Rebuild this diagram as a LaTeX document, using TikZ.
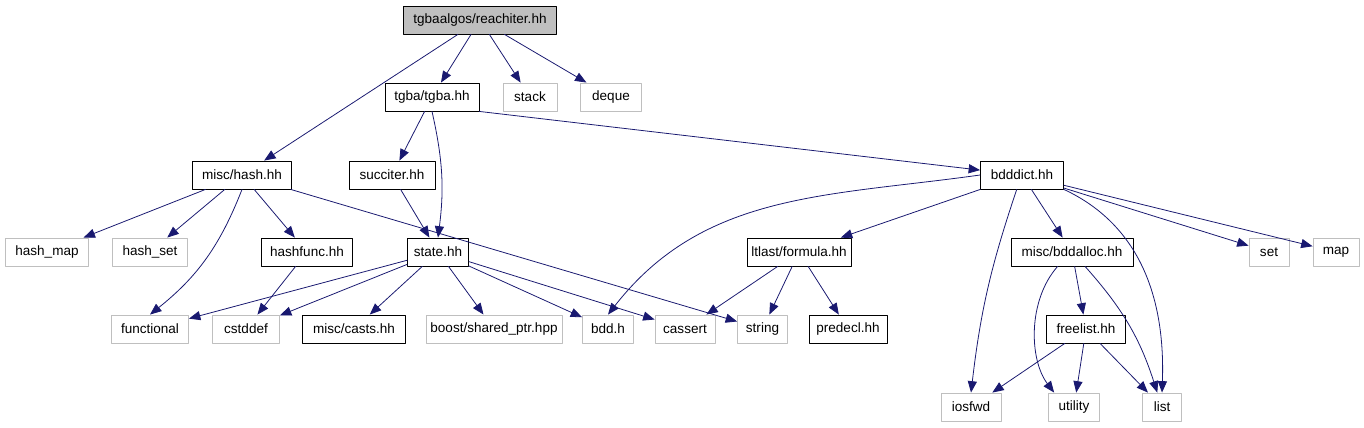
\documentclass[tikz,border=0pt]{standalone}
\usepackage{fontspec}
\setmainfont{Liberation Sans}
\usetikzlibrary{arrows.meta}
\definecolor{edgeblue}{HTML}{191970}
\definecolor{sysgray}{HTML}{BFBFBF}
\begin{document}
\begin{tikzpicture}[x=0.02cm,y=-0.02cm,line cap=round,line join=round,
  >={Triangle[length=6.5pt,width=5.2pt]},
  every node/.style={inner sep=0pt,minimum height=0.56cm,font=\fontsize{7.7}{9}\selectfont},
  docfile/.style={draw=black,line width=0.5pt},
  sysfile/.style={draw=sysgray,line width=0.5pt},
  rootfile/.style={draw=black,fill=sysgray,line width=0.5pt},
  dep/.style={->,draw=edgeblue,line width=0.45pt}]
  \useasboundingbox (0,0) rectangle (1364,427);
  % top rows
  \node[rootfile,minimum width=3.06cm] (reachiter) at (480,20) {tgbaalgos/reachiter.hh};
  \node[docfile,minimum width=1.88cm] (tgba) at (432,97) {tgba/tgba.hh};
  \node[sysfile,minimum width=1.08cm] (stack) at (530,97) {stack};
  \node[sysfile,minimum width=1.22cm] (deque) at (611,97) {deque};
  \node[docfile,minimum width=1.98cm] (hash) at (242,175) {misc/hash.hh};
  \node[docfile,minimum width=1.72cm] (succiter) at (392,175) {succiter.hh};
  \node[docfile,minimum width=1.66cm] (bdddict) at (1022,175) {bdddict.hh};
  % middle row
  \node[sysfile,minimum width=1.66cm] (hashmap) at (47,252) {hash\_map};
  \node[sysfile,minimum width=1.50cm] (hashset) at (150,252) {hash\_set};
  \node[docfile,minimum width=1.82cm] (hashfunc) at (307,252) {hashfunc.hh};
  \node[docfile,minimum width=1.22cm] (state) at (438,252) {state.hh};
  \node[docfile,minimum width=2.08cm] (formula) at (799,252) {ltlast/formula.hh};
  \node[docfile,minimum width=2.44cm] (bddalloc) at (1072,252) {misc/bddalloc.hh};
  \node[sysfile,minimum width=0.80cm] (set) at (1269,252) {set};
  \node[sysfile,minimum width=0.92cm] (map) at (1336,252) {map};
  % lower rows
  \node[sysfile,minimum width=1.54cm] (functional) at (150,329) {functional};
  \node[sysfile,minimum width=1.34cm] (cstddef) at (246,329) {cstddef};
  \node[docfile,minimum width=2.06cm] (casts) at (354,329) {misc/casts.hh};
  \node[sysfile,minimum width=2.72cm] (sharedptr) at (494,329) {boost/shared\_ptr.hpp};
  \node[sysfile,minimum width=1.02cm] (bddh) at (608,329) {bdd.h};
  \node[sysfile,minimum width=1.20cm] (cassert) at (685,329) {cassert};
  \node[sysfile,minimum width=1.00cm] (string) at (762.5,329) {string};
  \node[docfile,minimum width=1.56cm] (predecl) at (848,329) {predecl.hh};
  \node[docfile,minimum width=1.58cm] (freelist) at (1086,329) {freelist.hh};
  \node[sysfile,minimum width=1.20cm] (iosfwd) at (971,407) {iosfwd};
  \node[sysfile,minimum width=1.02cm] (utility) at (1074,407) {utility};
  \node[sysfile,minimum width=0.78cm] (list) at (1162,407) {list};
  % include edges
  \draw[dep] (reachiter) -- (hash);
  \draw[dep] (reachiter) -- (tgba);
  \draw[dep] (reachiter) -- (stack);
  \draw[dep] (reachiter) -- (deque);
  \draw[dep] (tgba) -- (succiter);
  \draw[dep] (tgba.south) to[bend left=10] (state.north);
  \draw[dep] (tgba.south east) -- (bdddict);
  \draw[dep] (hash) -- (hashmap);
  \draw[dep] (hash) -- (hashset);
  \draw[dep] (hash.south) to[bend left=15] (functional.north);
  \draw[dep] (hash) -- (hashfunc);
  \draw[dep] (hash) -- (string);
  \draw[dep] (succiter) -- (state);
  \draw[dep] (hashfunc) -- (cstddef);
  \foreach \dst in {functional,cstddef,casts,sharedptr,bddh,cassert}
    \draw[dep] (state) -- (\dst);
  \draw[dep] (bdddict.west) to[out=188,in=52] (bddh.north);
  \draw[dep] (bdddict) -- (formula);
  \draw[dep] (bdddict.250) to[bend right=6] (iosfwd.north);
  \draw[dep] (bdddict) -- (bddalloc);
  \draw[dep] (bdddict.south east) to[out=-25,in=88] (list.north);
  \draw[dep] (bdddict) -- (set);
  \draw[dep] (bdddict) -- (map);
  \draw[dep] (formula) -- (cassert);
  \draw[dep] (formula) -- (string);
  \draw[dep] (formula) -- (predecl);
  \draw[dep] (bddalloc) -- (freelist);
  \draw[dep] (bddalloc.south west) ++(47,0) .. controls +(-30,34) and +(-25,-33) .. (utility.144);
  \draw[dep] (bddalloc) to[bend left=12] (list);
  \foreach \dst in {iosfwd,utility,list}
    \draw[dep] (freelist) -- (\dst);
\end{tikzpicture}
\end{document}
